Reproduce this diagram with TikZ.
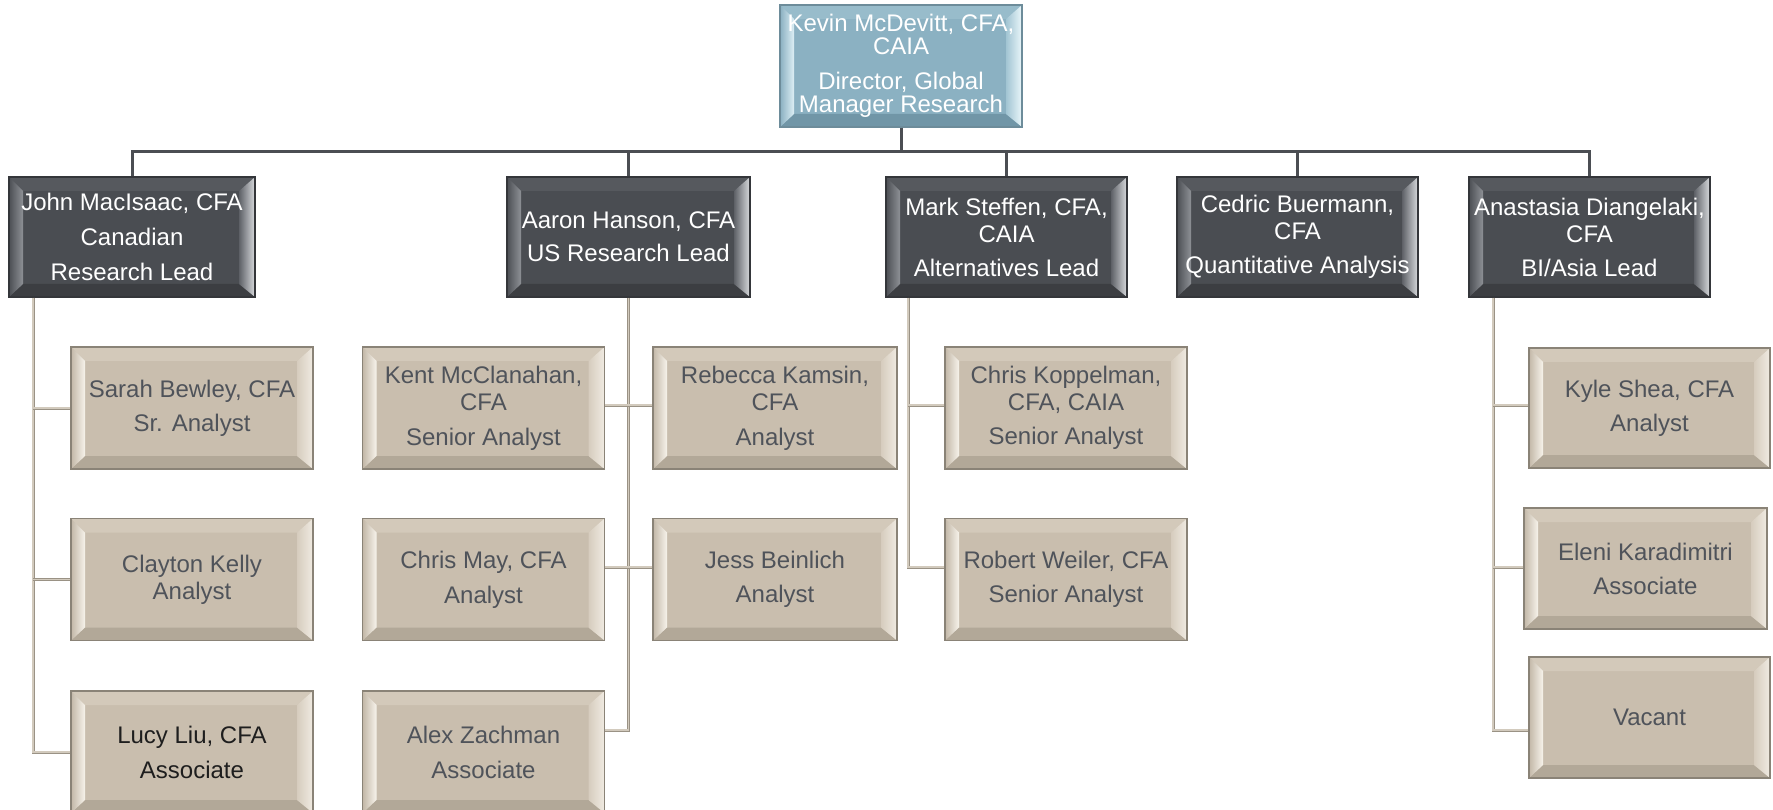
\documentclass[tikz,border=0pt]{standalone}
\usepackage{fontspec}
\setmainfont{Liberation Sans}
\usetikzlibrary{calc}
% beige staff boxes
\definecolor{stFill}{HTML}{C9BEAE}
\definecolor{stTop}{HTML}{D3C9BA}
\definecolor{stBot}{HTML}{B2A898}
\definecolor{stLO}{HTML}{C2B7A7}
\definecolor{stLI}{HTML}{F7F3EB}
\definecolor{stRI}{HTML}{D6CCBE}
\definecolor{stRO}{HTML}{F0EBE2}
\definecolor{stLine}{HTML}{8A8377}
\definecolor{stText}{HTML}{4F535A}
% dark manager boxes
\definecolor{mgFill}{HTML}{4A4D52}
\definecolor{mgTop}{HTML}{56595E}
\definecolor{mgBot}{HTML}{3C3E42}
\definecolor{mgLO}{HTML}{4C4F54}
\definecolor{mgLI}{HTML}{8E9196}
\definecolor{mgRI}{HTML}{5E6167}
\definecolor{mgRO}{HTML}{D8DADD}
\definecolor{mgLine}{HTML}{34363A}
% blue top box
\definecolor{tpFill}{HTML}{8BB1C2}
\definecolor{tpTop}{HTML}{98BCCB}
\definecolor{tpBot}{HTML}{7196A7}
\definecolor{tpLO}{HTML}{8AB0C1}
\definecolor{tpLI}{HTML}{DDEFF5}
\definecolor{tpRI}{HTML}{A2C5D3}
\definecolor{tpRO}{HTML}{EAF6FA}
\definecolor{tpLine}{HTML}{6D8C9A}
% connectors
\definecolor{mainLine}{HTML}{4B4E53}
\definecolor{subEdge}{HTML}{9A9285}
\definecolor{subIn}{HTML}{D2CABD}
\definecolor{leadText}{HTML}{1E1E1E}
\tikzset{
  bevel/.style={path picture={
    \coordinate (pA) at (path picture bounding box.north west);
    \coordinate (pB) at (path picture bounding box.north east);
    \coordinate (pC) at (path picture bounding box.south east);
    \coordinate (pD) at (path picture bounding box.south west);
    \coordinate (pa) at ($(pA)+(14pt,-14pt)$);
    \coordinate (pb) at ($(pB)+(-16pt,-14pt)$);
    \coordinate (pc) at ($(pC)+(-16pt,13pt)$);
    \coordinate (pd) at ($(pD)+(14pt,13pt)$);
    \fill[#1Top] (pA)--(pB)--(pb)--(pa)--cycle;
    \fill[#1Bot] (pD)--(pC)--(pc)--(pd)--cycle;
    \shade[left color=#1LO, right color=#1LI] (pA)--(pa)--(pd)--(pD)--cycle;
    \shade[left color=#1RI, right color=#1RO] (pB)--(pb)--(pc)--(pC)--cycle;
  }},
  box/.style={draw, line width=1.5pt, inner sep=0pt, align=center,
    font=\fontsize{24}{27}\selectfont},
  staff/.style={box, minimum width=242pt, minimum height=122pt,
    fill=stFill, draw=stLine, text=stText, bevel=st},
  mgr/.style={box, minimum width=242pt, minimum height=120pt,
    fill=mgFill, draw=mgLine, text=white, bevel=mg},
  topbox/.style={box, minimum width=242pt, minimum height=122pt,
    fill=tpFill, draw=tpLine, text=white, bevel=tp,
    font=\fontsize{24}{23.5}\selectfont},
  main/.style={draw=mainLine, line width=3pt},
  sub/.style={draw=subEdge, line width=0.8pt, double=subIn, double distance=1.4pt},
}
\begin{document}
\begin{tikzpicture}[x=1pt,y=-1pt]
\clip (0,0) rectangle (1773,810);
\fill[white] (0,0) rectangle (1773,810);
% top
\node[topbox] (top) at (901,66) {Kevin McDevitt, CFA,\\CAIA\\[11pt]Director, Global\\Manager Research};
% managers
\node[mgr, minimum width=246pt] (john) at (132,237) {John MacIsaac, CFA\\[8pt]Canadian\\[8pt]Research Lead};
\node[mgr, minimum width=243pt] (aaron) at (628.5,237) {Aaron Hanson, CFA\\[6pt]US Research Lead};
\node[mgr, minimum width=241pt] (mark) at (1006.5,237) {Mark Steffen, CFA,\\CAIA\\[7pt]Alternatives Lead};
\node[mgr, minimum width=241pt] (cedric) at (1297.5,237) {Cedric Buermann,\\CFA\\[7pt]Quantitative Analysis};
\node[mgr, minimum width=241pt] (anast) at (1589.5,237) {Anastasia Diangelaki,\\CFA\\[7pt]BI/Asia Lead};
% staff
\node[staff] (sarah) at (192,408) {Sarah Bewley, CFA\\[7pt]Sr. Analyst};
\node[staff] (clayton) at (192,579.5) {Clayton Kelly\\Analyst};
\node[staff, text=leadText] (lucy) at (192,752) {Lucy Liu, CFA\\[8pt]Associate};
\node[staff] (kent) at (483.5,408) {Kent McClanahan,\\CFA\\[8pt]Senior Analyst};
\node[staff] (chrismay) at (483.5,579.5) {Chris May, CFA\\[8pt]Analyst};
\node[staff] (alex) at (483.5,752) {Alex Zachman\\[8pt]Associate};
\node[staff, minimum width=244pt] (rebecca) at (775,408) {Rebecca Kamsin,\\CFA\\[8pt]Analyst};
\node[staff, minimum width=244pt] (jess) at (775,579.5) {Jess Beinlich\\[7pt]Analyst};
\node[staff] (koppel) at (1066,408) {Chris Koppelman,\\CFA, CAIA\\[7pt]Senior Analyst};
\node[staff] (weiler) at (1066,579.5) {Robert Weiler, CFA\\[7pt]Senior Analyst};
\node[staff, minimum width=241pt, minimum height=120pt] (kyle) at (1649.5,408) {Kyle Shea, CFA\\[7pt]Analyst};
\node[staff, minimum width=243pt, minimum height=121pt] (eleni) at (1645.5,568.5) {Eleni Karadimitri\\[7pt]Associate};
\node[staff, minimum width=241pt, minimum height=121pt] (vacant) at (1649.5,717.5) {Vacant};
% top-level connectors
\coordinate (hub) at (901,152);
\draw[main] (top.south) -- (hub);
\draw[main] (john.north) |- (hub) -| (anast.north);
\foreach \n in {aaron,mark,cedric} \draw[main] (\n.north) -- (\n.north |- hub);
% rows
\coordinate (r1) at (0,405);
\coordinate (r2) at (0,567);
\coordinate (r3) at (0,730);
% John's team
\coordinate (jx) at (33,0);
\draw[sub] (jx |- john.south) |- (lucy.west);
\draw[sub] (jx |- sarah.west) -- (sarah.west);
\draw[sub] (jx |- clayton.west) -- (clayton.west);
% Aaron's team
\draw[sub] (aaron.south) -- (aaron.south |- r3) -- (alex.east |- r3);
\draw[sub] (kent.east |- r1) -- (rebecca.west |- r1);
\draw[sub] (chrismay.east |- r2) -- (jess.west |- r2);
% Mark's team
\coordinate (mx) at (908,0);
\draw[sub] (mx |- mark.south) |- (weiler.west |- r2);
\draw[sub] (mx |- r1) -- (koppel.west |- r1);
% Anastasia's team
\coordinate (nx) at (1493,0);
\draw[sub] (nx |- anast.south) |- (vacant.west |- r3);
\draw[sub] (nx |- r1) -- (kyle.west |- r1);
\draw[sub] (nx |- r2) -- (eleni.west |- r2);
\end{tikzpicture}
\end{document}
